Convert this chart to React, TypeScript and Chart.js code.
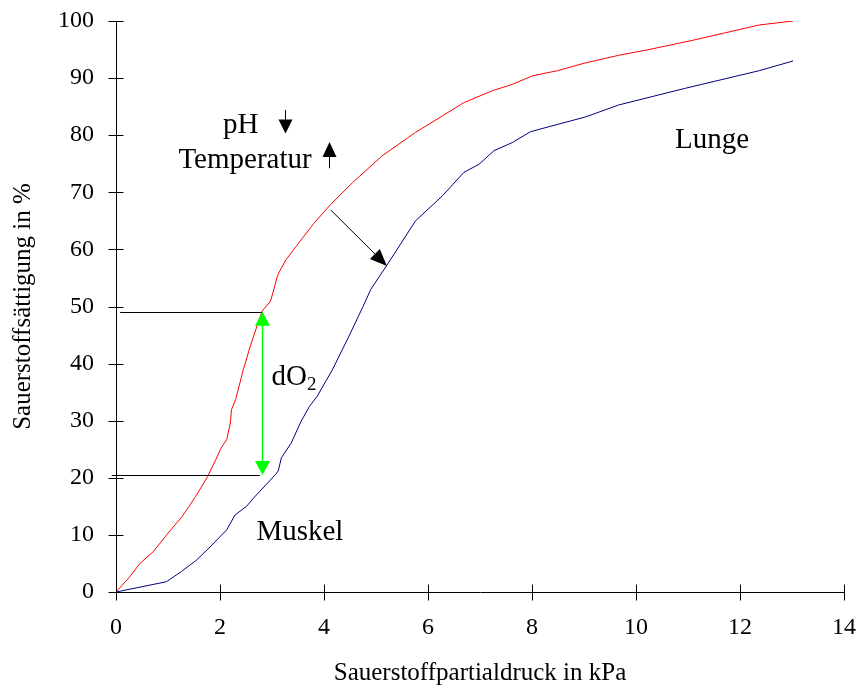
import React, { useEffect, useRef } from "react";
import { Chart, registerables } from "chart.js";

Chart.register(...registerables);

// ---- data ----
const xTickValues = [0, 2, 4, 6, 8, 10, 12, 14];
const yTickValues = [0, 10, 20, 30, 40, 50, 60, 70, 80, 90, 100];

// red curve (left-shifted, higher affinity)
const redX = [0, 0.24, 0.46, 0.72, 1.0, 1.27, 1.53, 1.76, 1.92, 2.02, 2.13, 2.2, 2.22, 2.3, 2.45, 2.59, 2.81, 2.97, 3.02, 3.1, 3.13, 3.27, 3.52, 3.8, 4.13, 4.55, 5.12, 5.76, 6.28, 6.69, 7.24, 7.62, 8.01, 8.49, 9.0, 9.67, 10.25, 11.08, 11.7, 12.37, 13.02];
const redY = [0, 2.4, 5.0, 7.1, 10.3, 13.2, 16.7, 20.2, 23.2, 25.2, 26.7, 29.6, 31.9, 33.7, 39.0, 43.3, 49.2, 50.9, 52.5, 55.2, 55.9, 58.2, 61.2, 64.5, 67.9, 71.7, 76.4, 80.5, 83.4, 85.7, 87.8, 88.9, 90.4, 91.3, 92.6, 94.0, 95.0, 96.6, 97.9, 99.3, 100];

// blue curve (right-shifted)
const blueX = [0, 0.97, 1.26, 1.55, 1.81, 2.13, 2.29, 2.51, 2.64, 3.07, 3.12, 3.18, 3.37, 3.56, 3.72, 3.87, 4.16, 4.48, 4.74, 4.9, 5.2, 5.76, 6.28, 6.69, 6.98, 7.27, 7.62, 7.97, 8.33, 9.03, 9.67, 10.94, 12.37, 13.02];
const blueY = [0, 1.8, 3.6, 5.6, 7.9, 10.9, 13.5, 15.0, 16.4, 20.6, 21.2, 23.5, 26.1, 29.9, 32.5, 34.3, 38.9, 44.8, 49.8, 53.0, 57.1, 65.0, 69.4, 73.5, 74.9, 77.3, 78.7, 80.6, 81.5, 83.2, 85.3, 88.2, 91.3, 93.0];

// annotation anchors (data units)
const doseX = 2.8;
const doseTop = 49.1;
const doseBottom = 20.5;
const upperGuide = { x0: 0.08, x1: 2.8, y: 49.1 };
const lowerGuide = { x0: -0.08, x1: 2.77, y: 20.5 };
const shiftArrow = { x0: 4.13, y0: 66.9, x1: 5.21, y1: 57.1 };
const phArrow = { x: 3.25, y0: 84.4, y1: 80.3 };
const tempArrow = { x: 4.1, y0: 74.2, y1: 78.8 };

const labelTexts = ["Lunge", "Muskel", "pH", "Temperatur"];
const labelX = [10.75, 2.7, 2.06, 1.2];
const labelY = [77.7, 9.1, 80.3, 74.2];
const doseLabel = { x: 2.99, y: 36.2 };

const xTitle = "Sauerstoffpartialdruck in kPa";
const yTitle = "Sauerstoffsättigung in %";

const SERIF = '"Liberation Serif", "Times New Roman", serif';

function arrowHead(ctx: CanvasRenderingContext2D, x1: number, y1: number, x2: number, y2: number, len: number, half: number, color: string) {
  const ang = Math.atan2(y2 - y1, x2 - x1);
  const bx = x2 - len * Math.cos(ang);
  const by = y2 - len * Math.sin(ang);
  const nx = -Math.sin(ang);
  const ny = Math.cos(ang);
  ctx.beginPath();
  ctx.moveTo(x2, y2);
  ctx.lineTo(bx + nx * half, by + ny * half);
  ctx.lineTo(bx - nx * half, by - ny * half);
  ctx.closePath();
  ctx.fillStyle = color;
  ctx.fill();
}

const annotationPlugin = {
  id: "annotations",
  afterDraw(chart: any) {
    const ctx: CanvasRenderingContext2D = chart.ctx;
    const xs = chart.scales.x;
    const ys = chart.scales.y;
    const px = (v: number) => xs.getPixelForValue(v);
    const py = (v: number) => ys.getPixelForValue(v);
    ctx.save();

    // crossing tick marks
    ctx.strokeStyle = "#000";
    ctx.lineWidth = 1;
    const axisY = Math.round(py(0)) + 0.5;
    const axisX = Math.round(px(0)) + 0.5;
    xTickValues.forEach((v) => {
      const x = Math.round(px(v)) + 0.5;
      ctx.beginPath();
      ctx.moveTo(x, axisY - 8);
      ctx.lineTo(x, axisY + 8);
      ctx.stroke();
    });
    yTickValues.forEach((v) => {
      const y = Math.round(py(v)) + 0.5;
      ctx.beginPath();
      ctx.moveTo(axisX - 8, y);
      ctx.lineTo(axisX + 7, y);
      ctx.stroke();
    });

    // guide lines
    [upperGuide, lowerGuide].forEach((g) => {
      const y = Math.round(py(g.y)) + 0.5;
      ctx.beginPath();
      ctx.moveTo(px(g.x0), y);
      ctx.lineTo(px(g.x1), y);
      ctx.stroke();
    });

    // green double arrow
    const gx = Math.round(px(doseX)) + 0.5;
    const gt = py(doseTop);
    const gb = py(doseBottom);
    ctx.strokeStyle = "#00FF00";
    ctx.lineWidth = 1.5;
    ctx.beginPath();
    ctx.moveTo(gx, gt + 10);
    ctx.lineTo(gx, gb - 10);
    ctx.stroke();
    arrowHead(ctx, gx, gb, gx, gt, 14, 7.5, "#00FF00");
    arrowHead(ctx, gx, gt, gx, gb, 14, 7.5, "#00FF00");
    ctx.lineWidth = 1;

    // black shift arrow
    const sx0 = px(shiftArrow.x0), sy0 = py(shiftArrow.y0);
    const sx1 = px(shiftArrow.x1), sy1 = py(shiftArrow.y1);
    ctx.strokeStyle = "#000";
    ctx.beginPath();
    ctx.moveTo(sx0, sy0);
    ctx.lineTo(sx1 - 8, sy1 - 8);
    ctx.stroke();
    arrowHead(ctx, sx0, sy0, sx1, sy1, 17, 7, "#000");

    // pH arrow (down)
    const phx = Math.round(px(phArrow.x)) + 0.5;
    ctx.beginPath();
    ctx.moveTo(phx, py(phArrow.y0));
    ctx.lineTo(phx, py(phArrow.y1) - 8);
    ctx.stroke();
    arrowHead(ctx, phx, py(phArrow.y0), phx, py(phArrow.y1), 14, 7, "#000");

    // temperature arrow (up)
    const tx = Math.round(px(tempArrow.x)) + 0.5;
    ctx.beginPath();
    ctx.moveTo(tx, py(tempArrow.y0));
    ctx.lineTo(tx, py(tempArrow.y1) + 8);
    ctx.stroke();
    arrowHead(ctx, tx, py(tempArrow.y0), tx, py(tempArrow.y1), 15, 7, "#000");

    // text labels
    ctx.fillStyle = "#000";
    ctx.textBaseline = "alphabetic";
    ctx.textAlign = "left";
    ctx.font = `29px ${SERIF}`;
    labelTexts.forEach((t, i) => {
      ctx.fillText(t, px(labelX[i]), py(labelY[i]));
    });
    // dO2
    const dx = px(doseLabel.x);
    const dy = py(doseLabel.y);
    ctx.fillText("dO", dx, dy);
    const w = ctx.measureText("dO").width;
    ctx.font = `19px ${SERIF}`;
    ctx.fillText("2", dx + w, dy + 5);

    ctx.restore();
  },
};

const zeroPadding = (scale: any) => {
  scale.paddingTop = 0;
  scale.paddingBottom = 0;
  scale.paddingLeft = 0;
  scale.paddingRight = 0;
};

export default function App() {
  const canvasRef = useRef<HTMLCanvasElement | null>(null);

  useEffect(() => {
    if (!canvasRef.current) return;
    const chart = new Chart(canvasRef.current, {
      type: "line",
      data: {
        datasets: [
          {
            label: "rot",
            data: redX.map((x, i) => ({ x, y: redY[i] })),
            borderColor: "#FF0000",
            borderWidth: 1,
            pointRadius: 0,
            tension: 0,
            fill: false,
          },
          {
            label: "blau",
            data: blueX.map((x, i) => ({ x, y: blueY[i] })),
            borderColor: "#000080",
            borderWidth: 1,
            pointRadius: 0,
            tension: 0,
            fill: false,
          },
        ],
      },
      options: {
        animation: false,
        responsive: false,
        events: [],
        layout: { padding: { top: 21, right: 12, bottom: 0, left: 0 } },
        plugins: {
          legend: { display: false },
          tooltip: { enabled: false },
        },
        scales: {
          x: {
            type: "linear",
            min: 0,
            max: 14,
            grid: { display: false, drawTicks: false },
            border: { display: true, color: "#000", width: 1 },
            ticks: {
              stepSize: 2,
              padding: 21,
              color: "#000",
              font: { family: SERIF, size: 24 },
              maxRotation: 0,
            },
            title: {
              display: true,
              text: xTitle,
              color: "#000",
              font: { family: SERIF, size: 25 },
              padding: { top: 0, bottom: 0 },
            },
            afterFit: (scale: any) => {
              scale.height = 96;
              zeroPadding(scale);
            },
          },
          y: {
            type: "linear",
            min: 0,
            max: 100,
            grid: { display: false, drawTicks: false },
            border: { display: true, color: "#000", width: 1 },
            ticks: {
              stepSize: 10,
              padding: 22,
              color: "#000",
              font: { family: SERIF, size: 24 },
            },
            title: {
              display: true,
              text: yTitle,
              color: "#000",
              font: { family: SERIF, size: 25 },
              padding: { top: 8, bottom: 0 },
            },
            afterFit: (scale: any) => {
              scale.width = 116;
              zeroPadding(scale);
            },
          },
        },
      },
      plugins: [annotationPlugin],
    });
    return () => chart.destroy();
  }, []);

  return (
    <div style={{ position: "absolute", left: 0, top: 0, width: 856, height: 688, background: "#fff" }}>
      <canvas ref={canvasRef} width={856} height={688} style={{ display: "block" }} />
    </div>
  );
}
